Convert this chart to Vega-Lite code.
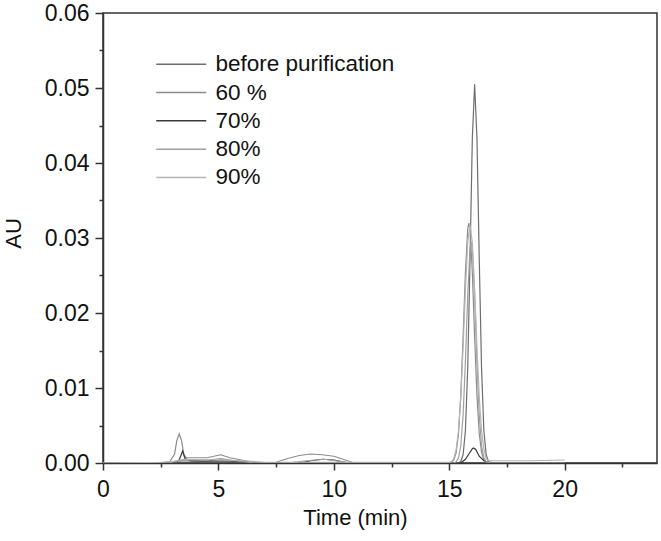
{
  "$schema": "https://vega.github.io/schema/vega-lite/v6.json",
  "autosize": "none",
  "width": 554,
  "height": 450,
  "padding": {"left": 103, "top": 13, "right": 4, "bottom": 78},
  "background": "white",
  "config": {
    "view": {"stroke": "#333", "strokeWidth": 1.5},
    "font": "Liberation Sans",
    "axis": {
      "domainColor": "#333", "domainWidth": 1.5, "tickColor": "#333", "tickWidth": 1.5,
      "labelFont": "Liberation Sans", "labelFontSize": 23, "labelColor": "#111",
      "titleFont": "Liberation Sans", "titleFontSize": 22, "titleColor": "#111", "titleFontWeight": "normal",
      "grid": false
    },
    "legend": {"labelFont": "Liberation Sans", "labelFontSize": 22.5, "labelColor": "#111"}
  },
  "data": {"values": [
    {"s":"before purification","t":0,"au":0},{"s":"before purification","t":2.8,"au":0},{"s":"before purification","t":3.2,"au":0.0002},{"s":"before purification","t":3.5,"au":0.0003},{"s":"before purification","t":4,"au":0.0002},{"s":"before purification","t":6,"au":0.0002},{"s":"before purification","t":6.8,"au":0},{"s":"before purification","t":15.4,"au":0},{"s":"before purification","t":15.5,"au":0.0002},{"s":"before purification","t":15.6,"au":0.0011},{"s":"before purification","t":15.7,"au":0.0043},{"s":"before purification","t":15.8,"au":0.0126},{"s":"before purification","t":15.9,"au":0.0272},{"s":"before purification","t":16.0,"au":0.0433},{"s":"before purification","t":16.1,"au":0.0505},{"s":"before purification","t":16.2,"au":0.0433},{"s":"before purification","t":16.3,"au":0.0272},{"s":"before purification","t":16.4,"au":0.0126},{"s":"before purification","t":16.5,"au":0.0043},{"s":"before purification","t":16.6,"au":0.0011},{"s":"before purification","t":16.7,"au":0.0002},{"s":"before purification","t":16.9,"au":0},{"s":"before purification","t":20,"au":0},
    {"s":"60 %","t":0,"au":0},{"s":"60 %","t":2.5,"au":0},{"s":"60 %","t":2.9,"au":0.0002},{"s":"60 %","t":3.1,"au":0.0012},{"s":"60 %","t":3.2,"au":0.003},{"s":"60 %","t":3.3,"au":0.0039},{"s":"60 %","t":3.4,"au":0.003},{"s":"60 %","t":3.5,"au":0.0012},{"s":"60 %","t":3.6,"au":0.0007},{"s":"60 %","t":4,"au":0.0007},{"s":"60 %","t":4.5,"au":0.0007},{"s":"60 %","t":5.1,"au":0.0011},{"s":"60 %","t":5.5,"au":0.0007},{"s":"60 %","t":6,"au":0.0004},{"s":"60 %","t":6.5,"au":0.0001},{"s":"60 %","t":7,"au":0},{"s":"60 %","t":7.5,"au":0.0001},{"s":"60 %","t":8,"au":0.0006},{"s":"60 %","t":8.5,"au":0.001},{"s":"60 %","t":9,"au":0.0012},{"s":"60 %","t":9.5,"au":0.0011},{"s":"60 %","t":10,"au":0.0009},{"s":"60 %","t":10.4,"au":0.0005},{"s":"60 %","t":10.8,"au":0.0001},{"s":"60 %","t":11.2,"au":0},{"s":"60 %","t":15.0,"au":0},{"s":"60 %","t":15.1,"au":0.0001},{"s":"60 %","t":15.2,"au":0.0004},{"s":"60 %","t":15.3,"au":0.0014},{"s":"60 %","t":15.4,"au":0.0039},{"s":"60 %","t":15.5,"au":0.009},{"s":"60 %","t":15.6,"au":0.0168},{"s":"60 %","t":15.7,"au":0.0254},{"s":"60 %","t":15.8,"au":0.0312},{"s":"60 %","t":15.85,"au":0.032},{"s":"60 %","t":15.9,"au":0.0312},{"s":"60 %","t":16.0,"au":0.0254},{"s":"60 %","t":16.1,"au":0.0168},{"s":"60 %","t":16.2,"au":0.009},{"s":"60 %","t":16.3,"au":0.0039},{"s":"60 %","t":16.4,"au":0.0014},{"s":"60 %","t":16.5,"au":0.0004},{"s":"60 %","t":16.6,"au":0.0001},{"s":"60 %","t":16.8,"au":0},{"s":"60 %","t":20,"au":0},
    {"s":"70%","t":0,"au":0},{"s":"70%","t":3.0,"au":0},{"s":"70%","t":3.3,"au":0.0004},{"s":"70%","t":3.45,"au":0.0016},{"s":"70%","t":3.55,"au":0.0006},{"s":"70%","t":3.8,"au":0.0003},{"s":"70%","t":4.5,"au":0.0003},{"s":"70%","t":5.2,"au":0.0004},{"s":"70%","t":6,"au":0.0002},{"s":"70%","t":6.5,"au":0},{"s":"70%","t":8.5,"au":0},{"s":"70%","t":9,"au":0.0003},{"s":"70%","t":9.5,"au":0.0005},{"s":"70%","t":10,"au":0.0004},{"s":"70%","t":10.5,"au":0.0001},{"s":"70%","t":11,"au":0},{"s":"70%","t":15.5,"au":0},{"s":"70%","t":15.7,"au":0.0005},{"s":"70%","t":15.85,"au":0.0012},{"s":"70%","t":16.0,"au":0.0019},{"s":"70%","t":16.05,"au":0.002},{"s":"70%","t":16.15,"au":0.0018},{"s":"70%","t":16.3,"au":0.0009},{"s":"70%","t":16.5,"au":0.0003},{"s":"70%","t":16.7,"au":0.0001},{"s":"70%","t":16.9,"au":0},{"s":"70%","t":20,"au":0},
    {"s":"80%","t":0,"au":0},{"s":"80%","t":2.8,"au":0},{"s":"80%","t":3.5,"au":0.0004},{"s":"80%","t":4.5,"au":0.0004},{"s":"80%","t":5.1,"au":0.0006},{"s":"80%","t":6,"au":0.0002},{"s":"80%","t":6.6,"au":0},{"s":"80%","t":8,"au":0},{"s":"80%","t":8.8,"au":0.0003},{"s":"80%","t":9.6,"au":0.0005},{"s":"80%","t":10.3,"au":0.0002},{"s":"80%","t":10.8,"au":0},{"s":"80%","t":15.2,"au":0},{"s":"80%","t":15.3,"au":0.00015},{"s":"80%","t":15.4,"au":0.0007},{"s":"80%","t":15.5,"au":0.0023},{"s":"80%","t":15.6,"au":0.0064},{"s":"80%","t":15.7,"au":0.0135},{"s":"80%","t":15.8,"au":0.0223},{"s":"80%","t":15.9,"au":0.0286},{"s":"80%","t":15.95,"au":0.0295},{"s":"80%","t":16.0,"au":0.0286},{"s":"80%","t":16.1,"au":0.0223},{"s":"80%","t":16.2,"au":0.0135},{"s":"80%","t":16.3,"au":0.0064},{"s":"80%","t":16.4,"au":0.0023},{"s":"80%","t":16.5,"au":0.0007},{"s":"80%","t":16.6,"au":0.0002},{"s":"80%","t":16.8,"au":0},{"s":"80%","t":20,"au":0},
    {"s":"90%","t":0,"au":0},{"s":"90%","t":2.5,"au":0.0001},{"s":"90%","t":3,"au":0.0002},{"s":"90%","t":3.5,"au":0.0005},{"s":"90%","t":6,"au":0.0003},{"s":"90%","t":7,"au":0.0001},{"s":"90%","t":14,"au":0.0001},{"s":"90%","t":15,"au":0.0001},{"s":"90%","t":15.1,"au":0.0002},{"s":"90%","t":15.2,"au":0.0006},{"s":"90%","t":15.3,"au":0.0018},{"s":"90%","t":15.4,"au":0.0043},{"s":"90%","t":15.5,"au":0.0088},{"s":"90%","t":15.6,"au":0.0155},{"s":"90%","t":15.7,"au":0.0231},{"s":"90%","t":15.8,"au":0.0294},{"s":"90%","t":15.9,"au":0.0318},{"s":"90%","t":16.0,"au":0.0294},{"s":"90%","t":16.1,"au":0.0231},{"s":"90%","t":16.2,"au":0.0155},{"s":"90%","t":16.3,"au":0.0088},{"s":"90%","t":16.4,"au":0.0043},{"s":"90%","t":16.5,"au":0.0018},{"s":"90%","t":16.6,"au":0.0006},{"s":"90%","t":16.7,"au":0.0003},{"s":"90%","t":17,"au":0.0003},{"s":"90%","t":18.5,"au":0.0003},{"s":"90%","t":20,"au":0.0004}
  ]},
  "mark": {"type": "line", "strokeWidth": 1.2, "clip": true},
  "encoding": {
    "x": {
      "field": "t", "type": "quantitative", "title": "Time (min)",
      "scale": {"domain": [0, 24], "nice": false, "zero": false},
      "axis": {
        "values": [0, 2.5, 5, 7.5, 10, 12.5, 15, 17.5, 20, 22.5],
        "labelExpr": "datum.value % 5 === 0 ? datum.label : ''",
        "format": "d",
        "tickSize": {"condition": {"test": "datum.value % 5 === 0", "value": 7}, "value": 4},
        "labelPadding": 8, "titlePadding": 6, "labelFlush": false,
        "titleX": 252, "titleAlign": "center"
      }
    },
    "y": {
      "field": "au", "type": "quantitative", "title": "AU",
      "scale": {"domain": [0, 0.06], "nice": false},
      "axis": {
        "values": [0, 0.005, 0.01, 0.015, 0.02, 0.025, 0.03, 0.035, 0.04, 0.045, 0.05, 0.055, 0.06],
        "labelExpr": "round(datum.value*1000) % 10 === 0 ? format(datum.value, '.2f') : ''",
        "tickSize": {"condition": {"test": "round(datum.value*1000) % 10 === 0", "value": 8}, "value": 4},
        "labelPadding": 6, "titlePadding": 19, "labelFlush": false,
        "titleY": 220
      }
    },
    "color": {
      "field": "s", "type": "nominal", "title": null,
      "sort": ["before purification", "60 %", "70%", "80%", "90%"],
      "scale": {"domain": ["before purification", "60 %", "70%", "80%", "90%"], "range": ["#6e6e6e", "#8c8c8c", "#3a3a3a", "#a0a0a0", "#b4b4b4"]},
      "legend": {
        "orient": "none", "legendX": 67, "legendY": 40,
        "symbolType": "M-2.5,0H2.5", "symbolSize": 400, "symbolStrokeWidth": 1.5,
        "labelOffset": 23, "rowPadding": 5.3, "labelLimit": 400
      }
    }
  }
}
